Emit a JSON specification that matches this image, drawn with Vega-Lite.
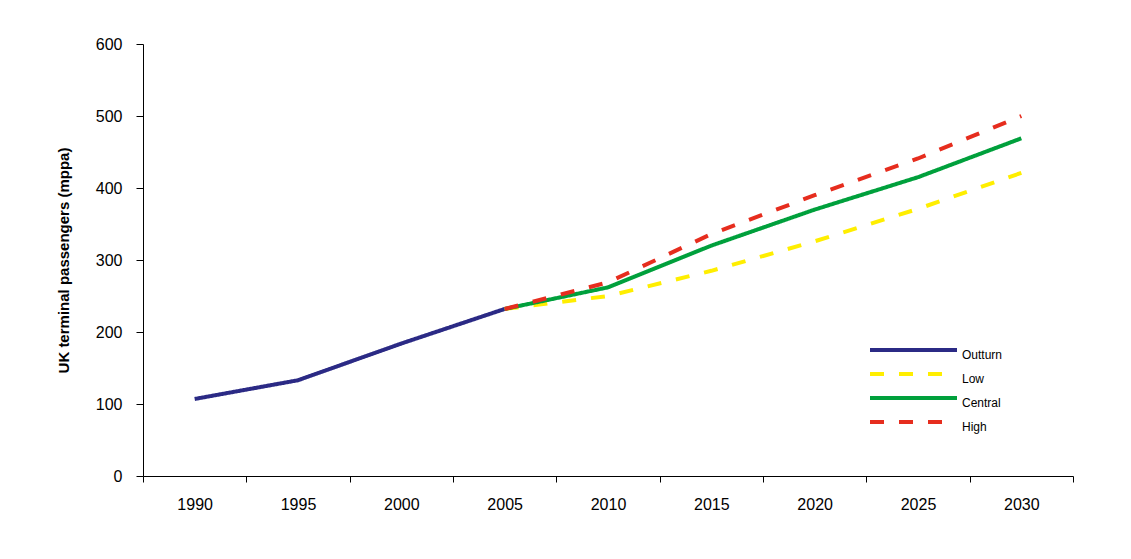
{
  "$schema": "https://vega.github.io/schema/vega-lite/v6.json",
  "width": 930,
  "height": 432,
  "autosize": {"type": "none"},
  "padding": {"left": 143, "top": 44, "right": 58, "bottom": 83},
  "background": "white",
  "config": {
    "view": {"stroke": null},
    "font": "Liberation Sans",
    "axis": {"domainColor": "#000000", "tickColor": "#000000", "labelColor": "#000000", "labelFontSize": 16, "grid": false, "domainWidth": 1, "tickWidth": 1}
  },
  "data": {
    "values": [
      {"year": "1990", "series": "Outturn", "value": 107},
      {"year": "1995", "series": "Outturn", "value": 133},
      {"year": "2000", "series": "Outturn", "value": 184},
      {"year": "2005", "series": "Outturn", "value": 232},
      {"year": "2005", "series": "Low", "value": 232},
      {"year": "2010", "series": "Low", "value": 250},
      {"year": "2015", "series": "Low", "value": 285},
      {"year": "2020", "series": "Low", "value": 326},
      {"year": "2025", "series": "Low", "value": 371},
      {"year": "2030", "series": "Low", "value": 421},
      {"year": "2005", "series": "Central", "value": 232},
      {"year": "2010", "series": "Central", "value": 262},
      {"year": "2015", "series": "Central", "value": 320},
      {"year": "2020", "series": "Central", "value": 370},
      {"year": "2025", "series": "Central", "value": 415},
      {"year": "2030", "series": "Central", "value": 469},
      {"year": "2005", "series": "High", "value": 232},
      {"year": "2010", "series": "High", "value": 269},
      {"year": "2015", "series": "High", "value": 336},
      {"year": "2020", "series": "High", "value": 390},
      {"year": "2025", "series": "High", "value": 441},
      {"year": "2030", "series": "High", "value": 500}
    ]
  },
  "transform": [
    {"calculate": "indexof(['Outturn','Low','Central','High'], datum.series)", "as": "order"}
  ],
  "mark": {"type": "line", "strokeWidth": 4, "strokeCap": "butt"},
  "encoding": {
    "x": {
      "field": "year", "type": "ordinal",
      "scale": {"type": "band", "paddingInner": 0, "paddingOuter": 0, "domain": ["1990","1995","2000","2005","2010","2015","2020","2025","2030"]},
      "axis": {"title": null, "labelAngle": 0, "tickBand": "extent", "tickSize": 6, "labelPadding": 14}
    },
    "y": {
      "field": "value", "type": "quantitative",
      "scale": {"domain": [0, 600]},
      "axis": {"title": "UK terminal passengers (mppa)", "values": [0,100,200,300,400,500,600], "tickSize": 7, "labelPadding": 14, "titleFontSize": 15, "titleFontWeight": "bold", "titleColor": "#000000", "titlePadding": 24}
    },
    "color": {
      "field": "series", "type": "nominal",
      "scale": {"domain": ["Outturn","Low","Central","High"], "range": ["#2b2a85","#ffee00","#00a03c","#e62d1e"]},
      "legend": {"title": null, "orient": "none", "legendX": 725, "legendY": 298, "symbolType": "stroke", "symbolSize": 7569, "symbolStrokeWidth": 4, "clipHeight": 16, "rowPadding": 5, "labelFontSize": 12, "labelOffset": 3, "labelColor": "#000000", "labelBaseline": "top"}
    },
    "strokeDash": {
      "field": "series", "type": "nominal",
      "scale": {"domain": ["Outturn","Low","Central","High"], "range": [[1,0],[14,15],[1,0],[14,15]]},
      "legend": {"title": null}
    },
    "order": {"field": "order"}
  }
}
